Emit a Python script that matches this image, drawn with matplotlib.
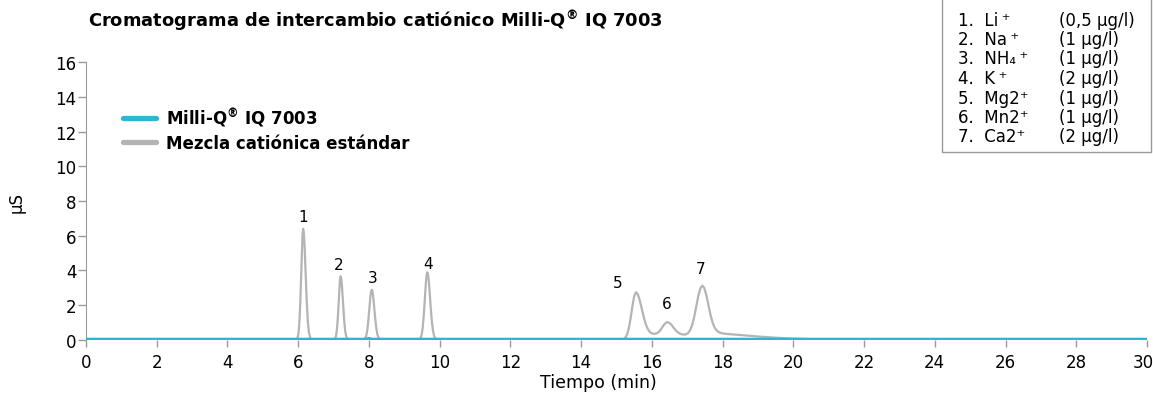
import matplotlib
matplotlib.use("Agg")
import matplotlib.pyplot as plt
from matplotlib.lines import Line2D
from matplotlib.patches import Rectangle
from matplotlib.transforms import ScaledTranslation

# Trace values (time in min, conductivity in uS)
standard_time = [
    0.0, 5.95, 5.98, 6.01, 6.04, 6.06, 6.08, 6.10, 6.12, 6.14, 6.16, 6.18, 6.20,
    6.22, 6.24, 6.27, 6.30, 6.34, 6.39, 6.45,
    6.97, 7.00, 7.04, 7.07, 7.10, 7.12, 7.14, 7.16, 7.18, 7.20, 7.22, 7.24, 7.26,
    7.28, 7.30, 7.33, 7.36, 7.40, 7.45,
    7.82, 7.84, 7.88, 7.92, 7.95, 7.98, 8.00, 8.02, 8.04, 8.06, 8.08, 8.10, 8.12,
    8.14, 8.16, 8.18, 8.21, 8.24, 8.28, 8.33, 8.38,
    9.38, 9.41, 9.45, 9.49, 9.52, 9.55, 9.57, 9.59, 9.61, 9.63, 9.65, 9.67, 9.69,
    9.71, 9.73, 9.75, 9.78, 9.81, 9.85, 9.90, 9.95, 10.0,
    15.15, 15.20, 15.25, 15.30, 15.35, 15.40, 15.45, 15.50, 15.55, 15.60, 15.65,
    15.70, 15.75, 15.80, 15.85, 15.90, 15.95, 16.00, 16.07, 16.15, 16.22, 16.28,
    16.34, 16.40, 16.44, 16.50, 16.56, 16.62, 16.70, 16.78, 16.86, 16.94, 17.02,
    17.08, 17.14, 17.20, 17.26, 17.32, 17.38, 17.43, 17.48, 17.54, 17.60, 17.66,
    17.72, 17.78, 17.85, 17.92, 18.00, 18.10, 18.30, 18.60, 19.00, 19.50, 20.00,
    20.50, 21.00, 22.00, 30.0,
]
standard_us = [
    0.0, 0.0, 0.09, 0.39, 1.23, 2.22, 3.53, 4.92, 5.99, 6.40, 6.14, 5.43, 4.44,
    3.33, 2.30, 1.14, 0.47, 0.11, 0.01, 0.0,
    0.0, 0.02, 0.05, 0.22, 0.70, 1.27, 2.02, 2.81, 3.43, 3.66, 3.49, 3.03, 2.39,
    1.72, 1.12, 0.49, 0.18, 0.03, 0.0,
    0.0, 0.01, 0.05, 0.21, 0.51, 1.04, 1.50, 2.00, 2.45, 2.77, 2.89, 2.79, 2.51,
    2.10, 1.63, 1.19, 0.64, 0.30, 0.08, 0.01, 0.0,
    0.0, 0.01, 0.07, 0.28, 0.69, 1.40, 2.02, 2.70, 3.30, 3.73, 3.89, 3.77, 3.43,
    2.94, 2.36, 1.78, 1.04, 0.53, 0.17, 0.03, 0.01, 0.0,
    0.0, 0.04, 0.12, 0.31, 0.68, 1.25, 1.94, 2.51, 2.74, 2.63, 2.33,
    1.92, 1.48, 1.08, 0.78, 0.57, 0.44, 0.37, 0.34, 0.38, 0.50, 0.68,
    0.86, 0.99, 1.02, 0.97, 0.85, 0.68, 0.49, 0.37, 0.31, 0.30, 0.38,
    0.55, 0.85, 1.35, 1.98, 2.60, 3.00, 3.12, 3.00, 2.58, 2.00, 1.42,
    0.98, 0.68, 0.50, 0.41, 0.37, 0.34, 0.31, 0.26, 0.19, 0.12, 0.07,
    0.04, 0.02, 0.0, 0.0,
]
blank_time = [0.0, 7.92, 8.0, 8.08, 30.0]
blank_us = [0.0, 0.0, 0.05, 0.0, 0.0]

peak_ids = ["1", "2", "3", "4", "5", "6", "7"]
peak_times = [6.14, 7.20, 8.08, 9.65, 15.55, 16.44, 17.43]
peak_heights = [6.40, 3.66, 2.89, 3.89, 2.74, 1.02, 3.12]

ions = ["Li\u2009\u207a", "Na\u2009\u207a", "NH\u2084\u2009\u207a", "K\u2009\u207a",
        "Mg2\u207a", "Mn2\u207a", "Ca2\u207a"]
concentrations = ["(0,5 \u00b5g/l)", "(1 \u00b5g/l)", "(1 \u00b5g/l)", "(2 \u00b5g/l)",
                  "(1 \u00b5g/l)", "(1 \u00b5g/l)", "(2 \u00b5g/l)"]

REG = "$^{\\mathbf{\u00ae}}$"  # small raised registered sign
series_names = [f"Milli-Q{REG} IQ 7003", "Mezcla cati\u00f3nica est\u00e1ndar"]
title = f"Cromatograma de intercambio cati\u00f3nico Milli-Q{REG} IQ 7003"
x_ticks = list(range(0, 31, 2))
y_ticks = list(range(0, 17, 2))

CYAN = "#2cb6cf"
GREY = "#b4b4b4"
AXIS = "#9a9a9a"
W, H = 1153, 402

plt.rcParams["font.family"] = "DejaVu Sans"
plt.rcParams["mathtext.fontset"] = "dejavusans"
fig = plt.figure(figsize=(W / 100, H / 100), dpi=100)
ax = fig.add_axes([86 / W, 1 - 340.8 / H, (1147 - 86) / W, 277.5 / H])


def fpos(x, y):
    """pixel position in the picture -> figure fraction"""
    return x / W, 1 - y / H


ax.plot(standard_time, standard_us, color=GREY, lw=1.6, zorder=2)
ax.plot(blank_time, blank_us, color=CYAN, lw=3.0, solid_capstyle="round", zorder=3)

# peak numbers, offsets in points from each apex
label_offsets = [(0, 9), (-1.5, 8.4), (0.7, 9.1), (0.7, 6.7), (-13.5, 6.7), (-0.7, 13.2), (-1, 12.2)]
for pid, t, h, off in zip(peak_ids, peak_times, peak_heights, label_offsets):
    ax.annotate(pid, (t, h), xytext=off, textcoords="offset points",
                ha="center", va="center", fontsize=11)

ax.set_xlim(0, 30)
ax.set_ylim(0, 16)
ax.set_xticks(x_ticks)
ax.set_yticks(y_ticks)
ax.tick_params(axis="y", length=6, width=1, color=AXIS, labelsize=12, pad=1)
ax.tick_params(axis="x", length=5, width=1, color=AXIS, labelsize=12, pad=4.5)
for side in ["top", "right", "bottom"]:
    ax.spines[side].set_visible(False)
ax.spines["left"].set_color(AXIS)
ax.spines["left"].set_bounds(0, 16)

# keep the last x label inside the picture, as in the original
last = ax.get_xticklabels()[-1]
last.set_transform(last.get_transform() + ScaledTranslation(-4 / 100, 0, fig.dpi_scale_trans))

fig.text(*fpos(598, 383), "Tiempo (min)", ha="center", va="center", fontsize=12.5)
fig.text(*fpos(17, 203), "\u00b5S", rotation=90, ha="center", va="center", fontsize=12)

fig.text(*fpos(88, 21.5), title, fontsize=12.9, fontweight="bold", ha="left", va="center")

handles = [Line2D([], [], color=CYAN, lw=3.8, solid_capstyle="round"),
           Line2D([], [], color=GREY, lw=3.8, solid_capstyle="round")]
ax.legend(handles, series_names, loc="upper left", bbox_to_anchor=(0.035, 0.842),
          frameon=False, prop={"weight": "bold", "size": 12},
          handlelength=2.0, handletextpad=0.6, labelspacing=0.28,
          borderpad=0, borderaxespad=0)

# concentration box in the top right corner
x0, y0 = fpos(942, 153)
x1, y1 = fpos(1151, -2)
fig.add_artist(Rectangle((x0, y0), x1 - x0, y1 - y0, transform=fig.transFigure,
                         fill=False, edgecolor=AXIS, lw=1))
row_y = [20.7, 40.0, 59.5, 79.0, 98.5, 118.0, 137.5]
for i, (ion, conc, y) in enumerate(zip(ions, concentrations, row_y)):
    fig.text(*fpos(958, y), f"{i + 1}.  {ion}", fontsize=12, ha="left", va="center")
    fig.text(*fpos(1059, y), conc, fontsize=12, ha="left", va="center")

fig.savefig("out.png", dpi=100)
